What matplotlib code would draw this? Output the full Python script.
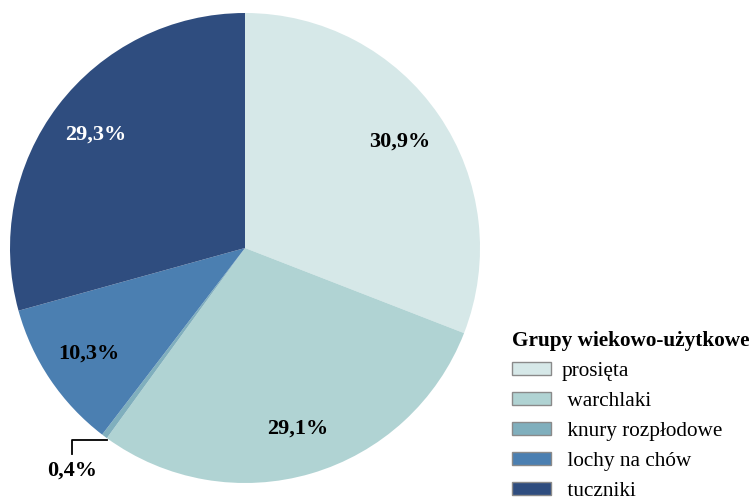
import numpy as np
import matplotlib
matplotlib.use("Agg")
import matplotlib.pyplot as plt

plt.rcParams['font.family'] = ['Liberation Serif', 'DejaVu Serif']

groups = ["prosięta", " warchlaki", " knury rozpłodowe", " lochy na chów", " tuczniki"]
shares = [30.9, 29.1, 0.4, 10.3, 29.3]
labels = ["30,9%", "29,1%", "0,4%", "10,3%", "29,3%"]
colors = ["#d6e8e8", "#b0d3d3", "#80afbd", "#4b7fb1", "#2f4d7f"]
text_colors = ["black", "black", "black", "black", "white"]

fig = plt.figure(figsize=(7.53, 4.99), dpi=100)
ax = fig.add_axes([10 / 753, 16 / 499, 470 / 753, 470 / 499])

wedges, _ = ax.pie(shares, colors=colors, startangle=90, counterclock=False,
                   radius=1.0, wedgeprops=dict(linewidth=0))
ax.set_xlim(-1, 1)
ax.set_ylim(-1, 1)
ax.set_aspect('equal')
ax.axis('off')

# percentage labels inside the wedges
for w, lab, tc in zip(wedges, labels, text_colors):
    mid = np.deg2rad((w.theta1 + w.theta2) / 2)
    if lab == "0,4%":
        # small slice: leader line and label outside
        ex, ey = 0.98 * np.cos(mid), 0.98 * np.sin(mid)
        lx = ex - 0.15
        ly = ey - 0.03
        ax.plot([ex, lx, lx], [ly, ly, ly - 0.06], color="black", lw=1.3,
                clip_on=False)
        ax.text(lx, ly - 0.13, lab, ha="center", va="center", fontsize=16,
                fontweight="bold", color=tc)
        continue
    ax.text(0.8 * np.cos(mid), 0.8 * np.sin(mid), lab, ha="center", va="center",
            fontsize=16, fontweight="bold", color=tc)

leg = fig.legend(wedges, groups, loc="upper left",
                 bbox_to_anchor=(512 / 753, (499 - 331) / 499),
                 frameon=False, fontsize=15.3, title="Grupy wiekowo-użytkowe",
                 title_fontproperties={'weight': 'bold', 'size': 15.3},
                 alignment="left", handlelength=1.85, handleheight=0.56,
                 handletextpad=0.5, labelspacing=0.52, borderpad=0,
                 borderaxespad=0)
for p in leg.get_patches():
    p.set_edgecolor("#8a8a8a")
    p.set_linewidth(1.0)

fig.savefig("out.png", dpi=100)
